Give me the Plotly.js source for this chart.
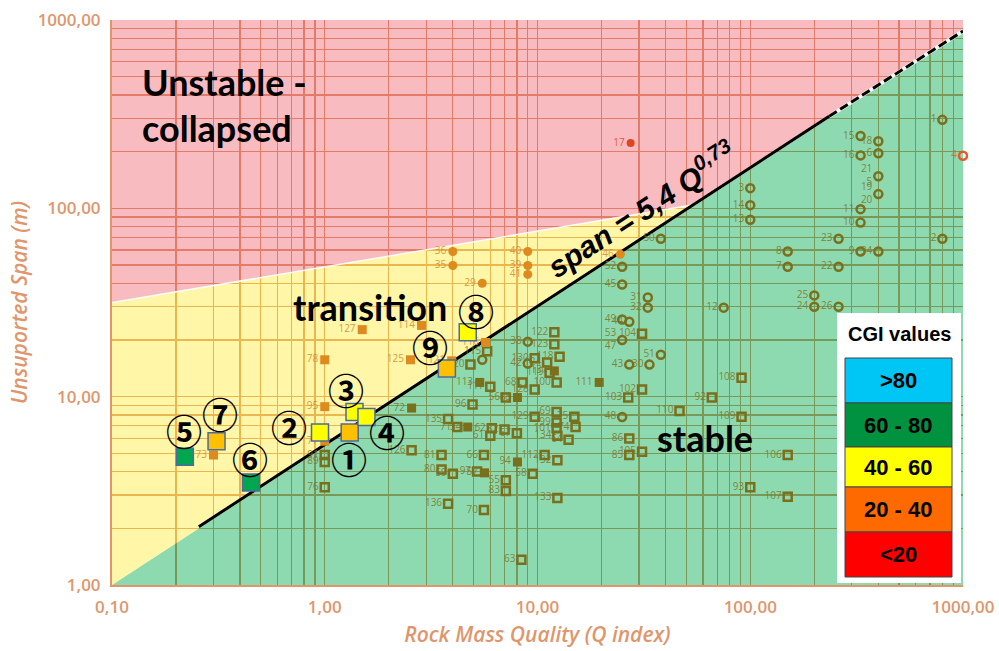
<!DOCTYPE html>
<html><head><meta charset="utf-8">
<script src="https://cdn.plot.ly/plotly-3.0.1.min.js"></script>
<style>html,body{margin:0;padding:0;background:#fff}#chart{width:999px;height:651px}</style>
</head><body><div id="chart"></div>
<script>
// ---------- axis ticks ----------
const xTickVals = [0.1, 1, 10, 100, 1000];
const xTickText = ["0,10", "1,00", "10,00", "100,00", "1000,00"];
const yTickVals = [1, 10, 100, 1000];
const yTickText = ["1,00", "10,00", "100,00", "1000,00"];

// ---------- zones (boundaries) ----------
const stableZoneQ = [0.1, 1000, 1000, 0.1];
const stableZoneSpan = [1.0, 874, 1, 1];
const transitionZoneQ = [0.1, 0.1, 56];
const transitionZoneSpan = [1.0, 31.6, 105];
const unstableZoneQ = [0.1, 0.1, 1000, 1000, 56];
const unstableZoneSpan = [31.6, 1000, 1000, 874, 105];

// design line span = 5,4 Q^0,73 (end points)
const solidLineQ = [0.256, 235];
const solidLineSpan = [2.04, 308];
const dashedLineQ = [235, 1000];
const dashedLineSpan = [308, 874];

// ---------- database points ----------
const openCircleIds = ["1","2","3","14","13","8","7","23","22","25","24","26","15","18","16","6","21<br>5","19<br>20","11","10","9","34","50","52","45","31","32","12","49","44","53<br>47","51","43","30","48","38","42",""];
const openCircleQ = [800,800,100,100,100,150,150,260,260,200,200,260,330,400,330,400,400,400,330,330,330,400,38,25,25,33,33,75,25,27,25,38,27,33.6,25,9,9,5.5];
const openCircleSpan = [295,69,128,104,87,59,49,69,49,34.5,30,30,242,227,191,196,148,119,99,84,59,59,69,49,39.4,33.6,29.7,29.7,25.7,25,20,16.7,14.8,14.8,7.8,19.6,15,15.7];

const openSquareIds = ["122","123","130","118","124","119","100","68","128","117","56","96","129","69","75","99","101","74","134","64","135","71","62","82","67","61","81","80","59","66","97","112","132","58","55","83","133","136","70","63","126","91","89","76","104","102","103","92","110","108","109","86","85","105","106","93","107","120","115"];
const openSquareQ = [12,12,9.7,12.7,11.1,11.4,12.3,8.5,9.7,6.0,7.1,4.95,9.7,12.3,14.9,12.3,12.3,15.1,12.4,14,3.8,4.2,6.1,7.0,8.0,6.0,3.54,3.54,4.0,5.6,5.2,10.8,12.4,9.5,7.1,7.1,12.4,3.8,5.6,8.4,2.56,1.0,1.0,1.0,31,31,26.7,66,46.5,91,91,27,27,31,150,100,150,4.84,5.8];
const openSquareSpan = [22,19,16,16.3,15.2,13.4,11.9,11.9,10.9,11.3,9.9,9.1,7.83,8.3,7.83,7.3,6.8,6.9,6.2,5.9,7.6,6.9,6.8,6.7,6.4,6.2,4.9,4.1,3.9,4.9,4.0,4.9,4.6,3.9,3.6,3.16,2.9,2.7,2.5,1.36,5.2,4.9,4.5,3.3,21.6,10.9,9.9,9.9,8.4,12.6,7.83,6.0,4.9,5.1,4.9,3.3,2.94,14.8,17.4];

const filledSquareIds = ["137","111","113","88","54","94","72","57"];
const filledSquareQ = [12,19.5,5.35,8.05,4.7,8.05,2.56,5.64];
const filledSquareSpan = [13.7,11.9,11.9,9.9,6.9,4.5,8.7,3.94];

const orangeSquareIds = ["127","114","78","125","121","95","73","77","116"];
const orangeSquareQ = [1.5,2.85,1.0,2.53,3.95,1.0,0.3,1.0,5.7];
const orangeSquareSpan = [22.7,23.9,15.7,15.7,15.5,8.85,4.9,5.8,19.4];

const orangeCircleIds = ["36","35","29","40","39","41","46"];
const orangeCircleQ = [4.0,4.0,5.5,9.0,9.0,9.0,24.5];
const orangeCircleSpan = [59,49.7,40,59,49.7,44.6,57];

const redCircleIds = ["17"];
const redCircleQ = [27.4];
const redCircleSpan = [222];

const redOpenCircleIds = ["4"];
const redOpenCircleQ = [1000];
const redOpenCircleSpan = [190];

// ---------- CGI case studies ----------
const caseLabels = ["①","②","③","④","⑤","⑥","⑦","⑧","⑨"];
const caseQ = [1.31,0.95,1.38,1.57,0.22,0.45,0.31,4.7,3.75];
const caseSpan = [6.45,6.45,8.3,7.8,4.8,3.5,5.8,22,14.1];
const caseCGI = ["20 - 40","40 - 60","40 - 60","40 - 60","60 - 80","60 - 80","20 - 40","40 - 60","20 - 40"];

// ---------- legend classes ----------
const cgiClasses = [">80","60 - 80","40 - 60","20 - 40","<20"];

// ================= styling / build =================
const W = 999, H = 651;
const M = {l:112, r:36, t:20, b:66};
const PW = W - M.l - M.r, PH = H - M.t - M.b;
const px2x = p => (p - M.l) / PW;
const py2y = p => (H - M.b - p) / PH;

const axisColor = 'rgb(223,150,108)';
const gridColor = 'rgb(212,126,78)';
const olive = 'rgb(122,112,28)';
const oliveText = 'rgba(125,116,35,0.85)';
const orange = 'rgb(222,138,30)';
const orangeText = 'rgba(215,140,55,0.9)';

function minorVals(d0, d1){ const v=[]; for(let d=d0; d<=d1; d++){ for(let k=2;k<=9;k++) v.push(k*Math.pow(10,d)); } return v; }

const zoneColors = {
  stable: 'rgba(27,179,97,0.5)',
  transition: 'rgba(255,237,81,0.5)',
  unstable: 'rgba(241,119,129,0.5)'
};
const caseColorMap = {"20 - 40":'#FFC000', "40 - 60":'#FFFF00', "60 - 80":'#00A650'};
const classColors = {">80":'#00C6F5', "60 - 80":'#00923F', "40 - 60":'#FFFF00', "20 - 40":'#FF6A00', "<20":'#FF0000'};

function zone(q, s, col){
  return {x:q, y:s, type:'scatter', mode:'lines', fill:'toself', fillcolor:col, line:{width:0}, hoverinfo:'skip'};
}
function pts(q, s, ids, symbol, color, lw, size, tcol){
  return {x:q, y:s, text:ids, type:'scatter', mode:'markers+text', textposition:'middle left',
    textfont:{family:'Open Sans', size:10, color:tcol},
    marker:{symbol:symbol, size:size, color:color, line:{color:color, width:lw}}, cliponaxis:false, hoverinfo:'skip'};
}

const traces = [
  zone(stableZoneQ, stableZoneSpan, zoneColors.stable),
  zone(transitionZoneQ, transitionZoneSpan, zoneColors.transition),
  zone(unstableZoneQ, unstableZoneSpan, zoneColors.unstable),
  {x:transitionZoneQ.slice(1), y:transitionZoneSpan.slice(1), type:'scatter', mode:'lines', line:{color:'rgba(255,255,255,0.9)', width:1.5}, hoverinfo:'skip'},
  {x:dashedLineQ, y:dashedLineSpan, type:'scatter', mode:'lines', line:{color:'rgba(255,255,255,0.85)', width:4}, hoverinfo:'skip'},
  {x:solidLineQ, y:solidLineSpan, type:'scatter', mode:'lines', line:{color:'#000', width:3}, hoverinfo:'skip'},
  {x:dashedLineQ, y:dashedLineSpan, type:'scatter', mode:'lines', line:{color:'#000', width:3, dash:'9px,4px'}, hoverinfo:'skip'},
  pts(openCircleQ, openCircleSpan, openCircleIds, 'circle-open', olive, 2.5, 8, oliveText),
  pts(openSquareQ, openSquareSpan, openSquareIds, 'square-open', olive, 2.5, 8, oliveText),
  pts(filledSquareQ, filledSquareSpan, filledSquareIds, 'square', olive, 0, 9, oliveText),
  pts(orangeSquareQ, orangeSquareSpan, orangeSquareIds, 'square', orange, 0, 9, orangeText),
  pts(orangeCircleQ, orangeCircleSpan, orangeCircleIds, 'circle', orange, 0, 9, orangeText),
  pts(redCircleQ, redCircleSpan, redCircleIds, 'circle', 'rgb(222,70,30)', 0, 8, 'rgba(222,80,40,0.9)'),
  pts(redOpenCircleQ, redOpenCircleSpan, redOpenCircleIds, 'circle-open', 'rgb(228,90,40)', 2.5, 8, 'rgba(222,100,50,0.85)'),
  {x:caseQ, y:caseSpan, type:'scatter', mode:'markers', cliponaxis:false, hoverinfo:'skip',
   marker:{symbol:'square', size:17, color:caseCGI.map(c=>caseColorMap[c]), line:{color:'#4A6CA0', width:1.5}}}
];

// circled number offsets (pixels, label placement)
const caseOffsets = [[-1,-25],[-31,7],[-9,23],[21,-14],[-1,27],[-1,25],[3,28],[8,22],[-17,23]];
const annotations = caseLabels.map((t,i)=>({
  x:Math.log10(caseQ[i]), y:Math.log10(caseSpan[i]), xref:'x', yref:'y', text:t, showarrow:false,
  xshift:caseOffsets[i][0], yshift:caseOffsets[i][1],
  font:{family:'Noto Sans CJK JP', size:36, color:'#000', weight:700}
}));

const bigFont = {family:'Lato', size:36, color:'#000', weight:700};
annotations.push(
  {xref:'paper', yref:'paper', x:px2x(140), y:py2y(82), xanchor:'left', yanchor:'middle', text:'Unstable -', showarrow:false, font:bigFont},
  {xref:'paper', yref:'paper', x:px2x(140), y:py2y(128), xanchor:'left', yanchor:'middle', text:'collapsed', showarrow:false, font:bigFont},
  {xref:'paper', yref:'paper', x:px2x(370), y:py2y(307), xanchor:'center', yanchor:'middle', text:'transition', showarrow:false, font:bigFont},
  {xref:'paper', yref:'paper', x:px2x(705), y:py2y(438), xanchor:'center', yanchor:'middle', text:'stable', showarrow:false, font:bigFont},
  {xref:'paper', yref:'paper', x:px2x(641), y:py2y(209), xanchor:'center', yanchor:'middle', textangle:-33,
   text:'<b><i>span = 5,4 Q<sup>0,73</sup></i></b>', showarrow:false, font:{family:'Liberation Sans', size:30, color:'#000'}}
);

// legend box
const shapes = [];
const boxL = 837, boxR = 961, boxT = 313, boxB = 583;
shapes.push({type:'rect', xref:'paper', yref:'paper', x0:px2x(boxL), x1:px2x(boxR), y0:py2y(boxB), y1:py2y(boxT), fillcolor:'#fff', line:{width:0}, layer:'above'});
annotations.push({xref:'paper', yref:'paper', x:px2x((boxL+boxR)/2), y:py2y(334), xanchor:'center', yanchor:'middle', text:'CGI values', showarrow:false, font:{family:'Liberation Sans', size:20, color:'#000', weight:700}});
const blkL = 845, blkR = 952, blkEdges = [358,403,447,487,532,577];
cgiClasses.forEach((c,i)=>{
  shapes.push({type:'rect', xref:'paper', yref:'paper', x0:px2x(blkL), x1:px2x(blkR), y0:py2y(blkEdges[i+1]), y1:py2y(blkEdges[i]), fillcolor:classColors[c], line:{color:'#444', width:1}, layer:'above'});
  annotations.push({xref:'paper', yref:'paper', x:px2x((blkL+blkR)/2), y:py2y((blkEdges[i]+blkEdges[i+1])/2), xanchor:'center', yanchor:'middle', text:c, showarrow:false, font:{family:'Liberation Sans', size:22, color:'#000', weight:700}});
});

const tickFont = {family:'Open Sans', size:17, color:axisColor, weight:600};
const titleFont = {family:'Open Sans', size:21, color:axisColor, style:'italic', weight:600};

const layout = {
  width:W, height:H, margin:M, paper_bgcolor:'#fff', plot_bgcolor:'#fff', showlegend:false, hovermode:false,
  xaxis:{type:'log', range:[-1,3], tickmode:'array', tickvals:xTickVals, ticktext:xTickText, ticks:'', tickfont:tickFont,
    showgrid:true, gridcolor:gridColor, gridwidth:1.3, zeroline:false, showline:true, linecolor:axisColor, linewidth:2,
    minor:{tickmode:'array', tickvals:minorVals(-1,2), showgrid:true, gridcolor:gridColor, gridwidth:1.3, ticks:''},
    ticklabelstandoff:6,
    title:{text:'Rock Mass Quality (Q index)', font:titleFont, standoff:10}},
  yaxis:{type:'log', range:[0,3], tickmode:'array', tickvals:yTickVals, ticktext:yTickText, ticks:'', tickfont:tickFont,
    showgrid:true, gridcolor:gridColor, gridwidth:1.3, zeroline:false, showline:true, linecolor:axisColor, linewidth:2,
    minor:{tickmode:'array', tickvals:minorVals(0,2), showgrid:true, gridcolor:gridColor, gridwidth:1.3, ticks:''},
    ticklabelstandoff:6,
    title:{text:'Unsuported Span (m)', font:titleFont, standoff:4}},
  shapes:shapes, annotations:annotations
};

Plotly.newPlot('chart', traces, layout, {staticPlot:true, displayModeBar:false});
</script></body></html>
